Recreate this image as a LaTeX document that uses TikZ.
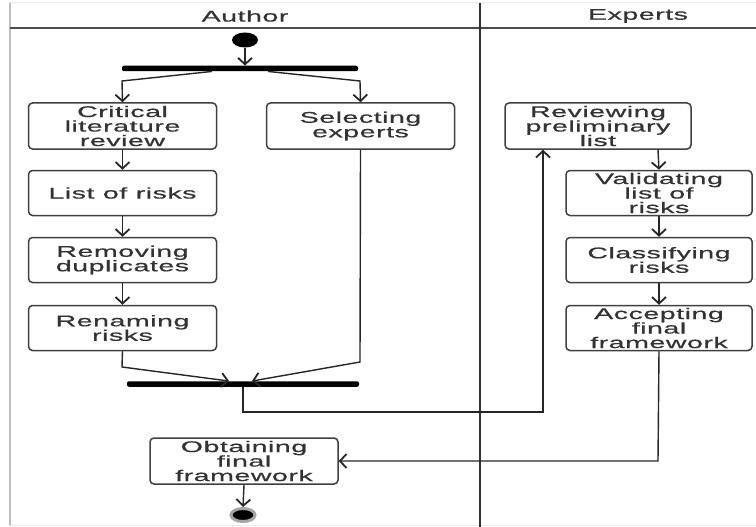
\documentclass[tikz,border=0pt]{standalone}
\usepackage{fontspec}
\setmainfont{Liberation Sans}[FakeStretch=1.85,LetterSpace=3,FakeBold=0.6]
\usetikzlibrary{shapes.geometric,arrows.meta,calc}
\tikzset{
  act/.style={draw=black!75, line width=1.5pt, rounded corners=4pt, fill=white,
    minimum width=188pt, minimum height=46pt, align=center, inner sep=0pt,
    text=black!80, font=\fontsize{15.5}{14.5}\selectfont},
  bar/.style={fill=black, rounded corners=2pt, minimum height=5.5pt, inner sep=0pt},
  conn/.style={draw=black!85, line width=1.4pt},
  arr/.style={conn, -{Straight Barb[length=6.5pt,width=14pt,line width=1.8pt]}},
  lane/.style={draw=black!70, line width=1.4pt},
  hdr/.style={font=\fontsize{15.5}{15}\selectfont, text=black!80, inner sep=0pt}
}
\begin{document}
\begin{tikzpicture}[x=1pt,y=-1pt]
\useasboundingbox (0,0) rectangle (756,527);
% frame
\draw[draw=black!25, line width=1.5pt] (10,3) -- (10,525);
\draw[draw=black!8, line width=1pt] (10,3) -- (756,3);
\draw[draw=black!8, line width=1pt] (10,525) -- (756,525);
\draw[lane] (10,28) -- (756,28);
\draw[draw=black!80, line width=1.7pt] (480,3) -- (480,527);
\node[hdr] (hA) at (245,16) {Author};
\node[hdr] (hE) at (638,16) {Experts};
% start / bars
\node[ellipse, fill=black, minimum width=26pt, minimum height=15pt, inner sep=0pt] (start) at (245,40) {};
\node[bar, minimum width=236pt] (fork) at (240,68.5) {};
\node[bar, minimum width=232pt] (join) at (243,384) {};
% author activities
\node[act] (crit) at (122.5,126) {Critical\\literature\\review};
\node[act, minimum height=45pt] (list) at (122.5,193) {List of risks};
\node[act, minimum height=45pt] (remove) at (122.5,260) {Removing\\duplicates};
\node[act, minimum height=45pt] (rename) at (122.5,328) {Renaming\\risks};
\node[act] (select) at (360.5,126) {Selecting\\experts};
\node[act] (obtain) at (244,461) {Obtaining\\final\\framework};
% experts activities
\node[act, minimum width=186pt] (review) at (598,126) {Reviewing\\preliminary\\list};
\node[act, minimum width=186pt, minimum height=45pt] (valid) at (659,193) {Validating\\list of\\risks};
\node[act, minimum width=186pt, minimum height=45pt] (classify) at (659,260) {Classifying\\risks};
\node[act, minimum width=186pt, minimum height=45pt] (accept) at (659,328) {Accepting\\final\\framework};
% end
\node[ellipse, fill=black, draw=black!35, line width=3pt, minimum width=24pt, minimum height=13pt, inner sep=0pt] (endn) at (243,515) {};
% connectors
\draw[arr] (start.south) -- (start.south |- fork.north);
\draw[arr] (fork.south -| 212,0) -- (122,81) -- (crit.north);
\draw[arr] (fork.south -| 268,0) -- (360,81) -- (select.north);
\draw[arr] (crit) -- (list);
\draw[arr] (list) -- (remove);
\draw[arr] (remove) -- (rename);
\draw[arr] (rename.south) -- (122,367) -- (join.north -| 229,0);
\draw[arr] (select.south) -- (360,362) -- (join.north -| 252,0);
\draw[arr] (join.south) -- (243,412) -- (543,412) -- (review.south -| 543,0);
\draw[arr] (review.south -| 658,0) -- (valid.north);
\draw[arr] (valid) -- (classify);
\draw[arr] (classify) -- (accept);
\draw[arr] (accept.south) -- (658,461) -- (obtain.east);
\draw[arr] (obtain.south) -- (endn.north);
\end{tikzpicture}
\end{document}
